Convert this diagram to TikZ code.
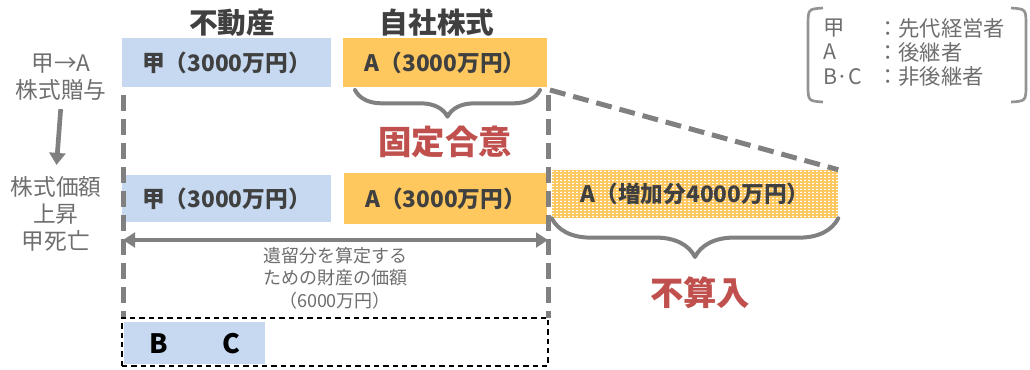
\documentclass[tikz,border=0pt]{standalone}
\usepackage{fontspec}
\setmainfont{Noto Sans CJK JP}
\usetikzlibrary{positioning,calc,patterns,decorations.pathreplacing,arrows.meta}
\definecolor{boxblue}{HTML}{C6D9F1}
\definecolor{boxorange}{HTML}{FFC85F}
\definecolor{linegray}{HTML}{808080}
\definecolor{labelgray}{HTML}{6E6E6E}
\definecolor{keyred}{HTML}{C0504D}
\definecolor{darktext}{HTML}{404040}
\pgfdeclarepatternformonly{whitedash}{\pgfqpoint{0pt}{0pt}}{\pgfqpoint{3pt}{2.2pt}}{\pgfqpoint{3pt}{2.2pt}}{%
  \pgfpathrectangle{\pgfqpoint{0pt}{0pt}}{\pgfqpoint{1.8pt}{0.9pt}}\pgfusepath{fill}}
\tikzset{
  asset/.style={inner sep=0pt, minimum width=#1, text=darktext,
    font=\fontsize{17}{20}\selectfont\bfseries},
  heading/.style={text=darktext, font=\fontsize{21.5}{25}\selectfont\bfseries},
  event/.style={text=labelgray, align=center, font=\fontsize{17}{20.5}\selectfont},
  keyword/.style={text=keyred, font=\fontsize{25}{29}\selectfont\bfseries},
  legend/.style={anchor=west, inner sep=0pt, text=labelgray,
    font=\fontsize{16}{18}\selectfont},
  gdash/.style={linegray, line width=3.75pt, dash pattern=on 12pt off 6pt},
  gbrace/.style={linegray, line width=3pt, line cap=round, line join=round,
    decorate, decoration={brace, mirror, amplitude=#1}},
}
\begin{document}
\begin{tikzpicture}[x=0.75pt, y=-0.75pt]
    \useasboundingbox (0,0) rectangle (1030,369);

    % column headings
    \node[heading] (realestate) at (232,23) {不動産};
    \node[heading] (shares) at (437,23) {自社株式};

    % row 1: gift of shares
    \node[asset=156.75pt, minimum height=36.75pt, fill=boxblue] (kou1) at (226.5,62.5) {甲（3000万円）};
    \node[asset=153pt, minimum height=36.75pt, fill=boxorange] (a1) at (445,62.5) {A（3000万円）};

    % row 2: death of 甲
    \node[asset=156.75pt, minimum height=35.25pt, fill=boxblue] (kou2) at (226.5,198.5) {甲（3000万円）};
    \node[asset=152.25pt, minimum height=38.25pt, fill=boxorange] (a2) at (445.5,198.5) {A（3000万円）};
    \node[asset=214.5pt, minimum height=36pt, fill=boxorange] (a3) at (695,194) {};
    \fill[pattern=whitedash, pattern color=white] (a3.north west) rectangle (a3.south east);
    \node[asset=214.5pt, minimum height=36pt] at (a3) {A（増加分4000万円）};

    % events on the left
    \node[event] (ev1) at (61,77) {甲→A\\株式贈与};
    \node[event] (ev2) at (56,214) {株式価額\\上昇\\甲死亡};
    \draw[linegray, line width=3.5pt, -{Triangle[length=9pt, width=12pt]}, shorten <=3pt, shorten >=5pt] (ev1.south) -- (ev2.north);

    % scope of the estate
    \coordinate (L1) at (123,95);
    \coordinate (L2) at (123,318);
    \coordinate (R1) at (548,95);
    \coordinate (R2) at (548,318);
    \coordinate (R0) at (550,90);
    \draw[gdash] (L1) -- (L2);
    \draw[gdash] (R1) -- (R2);
    \draw[gdash] (R0) -- (a3.north east);

    \draw[gbrace=20pt] (355,90) coordinate (b1) -- (540,90) coordinate (b2);
    \node[keyword] (fixed) at (445,142) {固定合意};
    \draw[gbrace=29pt] (a3.south west) -- (a3.south east);
    \node[keyword] (excluded) at (700,293) {不算入};

    \coordinate (arrL) at (123,240);
    \coordinate (arrR) at (548,240);
    \draw[linegray, line width=3pt, {Triangle[length=9pt, width=11pt]}-{Triangle[length=9pt, width=11pt]}] (arrL) -- (arrR);
    \node[text=labelgray, align=center, font=\fontsize{13.5}{17}\selectfont] (value) at (335,278)
        {遺留分を算定する\\ための財産の価額\\（6000万円）};

    % heirs B and C
    \node[draw, line width=0.8pt, dash pattern=on 4pt off 3pt, minimum width=319.5pt, minimum height=36pt] (bcframe) at (335,342) {};
    \node[inner sep=0pt, fill=boxblue, minimum width=105.75pt, minimum height=31.5pt] (bc) at (194.5,343) {};
    \node[font=\fontsize{20}{24}\selectfont\bfseries] (heirB) at (159,344) {B};
    \node[font=\fontsize{20}{24}\selectfont\bfseries] (heirC) at (231,344) {C};

    % legend
    \draw[linegray!85, line width=2pt] (823,8) .. controls (808,9) .. (808,26) -- (808,84) .. controls (808,101) .. (823,102);
    \draw[linegray!85, line width=2pt] (1011,8) .. controls (1026,9) .. (1026,26) -- (1026,84) .. controls (1026,101) .. (1011,102);
    \node[legend] (k1) at (823,28) {甲};
    \node[legend] (k2) at (823,52) {A};
    \node[legend] (k3) at (823,77) {B·C};
    \node[legend] (d1) at (877,28) {：先代経営者};
    \node[legend] (d2) at (877,52) {：後継者};
    \node[legend] (d3) at (877,77) {：非後継者};
\end{tikzpicture}
\end{document}
